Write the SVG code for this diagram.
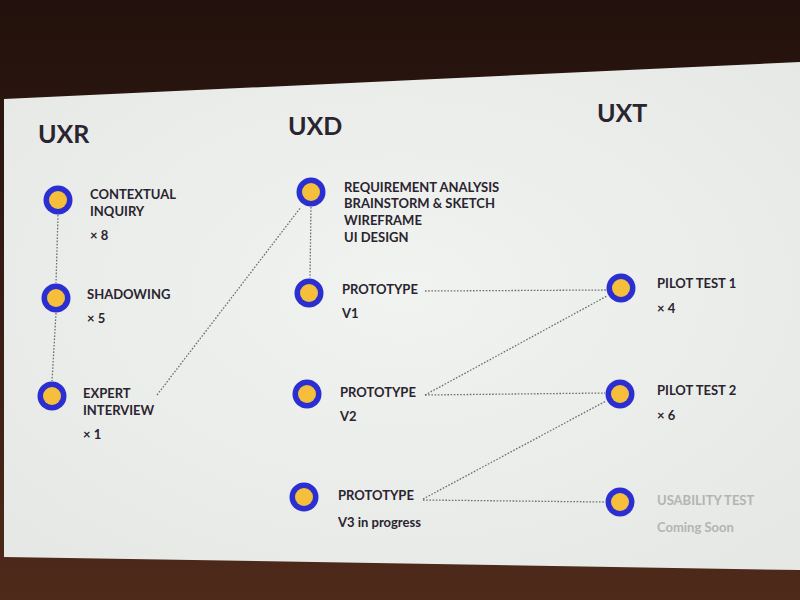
<svg xmlns="http://www.w3.org/2000/svg" width="800" height="600" viewBox="0 0 800 600">
<defs>
<linearGradient id="bg" x1="0" y1="0" x2="0" y2="1">
<stop offset="0" stop-color="#22110c"/>
<stop offset="0.5" stop-color="#381c14"/>
<stop offset="1" stop-color="#4e2a1a"/>
</linearGradient>
<radialGradient id="slide" cx="0.5" cy="0.45" r="0.7">
<stop offset="0" stop-color="#f1f3f0"/>
<stop offset="1" stop-color="#e5e8e4"/>
</radialGradient>
<g id="dot">
<circle r="14.5" fill="#2b2fd2"/>
<circle r="9" fill="#f5bf3c"/>
</g>
</defs>
<style>
.h{font-family:"Lato","Liberation Sans",sans-serif;font-weight:bold;font-size:25px;fill:#2a2430}
.t{font-family:"Lato","Liberation Sans",sans-serif;font-weight:bold;font-size:13px;fill:#2a2430}
.g{fill:#b3b4b4}
.c{stroke:#6e6e70;stroke-width:1.3;stroke-dasharray:1.6 1.6;fill:none}
</style>
<rect width="800" height="600" fill="url(#bg)"/>
<polygon points="4,99 800,62 800,570 4,557" fill="url(#slide)"/>
<g id="connectors">
<line class="c" x1="58" y1="215" x2="56" y2="283"/>
<line class="c" x1="56" y1="313" x2="52" y2="381"/>
<line class="c" x1="157" y1="395" x2="301" y2="207"/>
<line class="c" x1="311" y1="207" x2="310" y2="278"/>
<line class="c" x1="425" y1="291" x2="606" y2="290"/>
<line class="c" x1="425" y1="395" x2="607" y2="296"/>
<line class="c" x1="425" y1="395" x2="605" y2="393"/>
<line class="c" x1="423" y1="499" x2="606" y2="401"/>
<line class="c" x1="423" y1="500" x2="605" y2="502"/>
</g>
<g id="headers">
<text class="h" x="38" y="143">UXR</text>
<text class="h" x="288" y="135">UXD</text>
<text class="h" x="597" y="122">UXT</text>
</g>
<g id="contextual-inquiry">
<use href="#dot" x="58" y="200"/>
<text class="t" x="90" y="199">CONTEXTUAL</text>
<text class="t" x="90" y="216">INQUIRY</text>
<text class="t" x="90" y="240">× 8</text>
</g>
<g id="shadowing">
<use href="#dot" x="56" y="298"/>
<text class="t" x="87" y="299">SHADOWING</text>
<text class="t" x="87" y="323">× 5</text>
</g>
<g id="expert-interview">
<use href="#dot" x="52" y="396"/>
<text class="t" x="83" y="398">EXPERT</text>
<text class="t" x="83" y="415">INTERVIEW</text>
<text class="t" x="83" y="439">× 1</text>
</g>
<g id="requirement">
<use href="#dot" x="311" y="192"/>
<text class="t" x="344" y="192">REQUIREMENT ANALYSIS</text>
<text class="t" x="344" y="208">BRAINSTORM &amp; SKETCH</text>
<text class="t" x="344" y="225">WIREFRAME</text>
<text class="t" x="344" y="242">UI DESIGN</text>
</g>
<g id="prototype-v1">
<use href="#dot" x="309" y="293"/>
<text class="t" x="342" y="294">PROTOTYPE</text>
<text class="t" x="342" y="318">V1</text>
</g>
<g id="prototype-v2">
<use href="#dot" x="307" y="394"/>
<text class="t" x="340" y="397">PROTOTYPE</text>
<text class="t" x="340" y="421">V2</text>
</g>
<g id="prototype-v3">
<use href="#dot" x="304" y="497"/>
<text class="t" x="338" y="500">PROTOTYPE</text>
<text class="t" x="338" y="527">V3 in progress</text>
</g>
<g id="pilot-test-1">
<use href="#dot" x="621" y="288"/>
<text class="t" x="657" y="288">PILOT TEST 1</text>
<text class="t" x="657" y="313">× 4</text>
</g>
<g id="pilot-test-2">
<use href="#dot" x="620" y="394"/>
<text class="t" x="657" y="395">PILOT TEST 2</text>
<text class="t" x="657" y="420">× 6</text>
</g>
<g id="usability-test">
<use href="#dot" x="620" y="502"/>
<text class="t g" x="657" y="505">USABILITY TEST</text>
<text class="t g" x="657" y="532">Coming Soon</text>
</g>
</svg>
